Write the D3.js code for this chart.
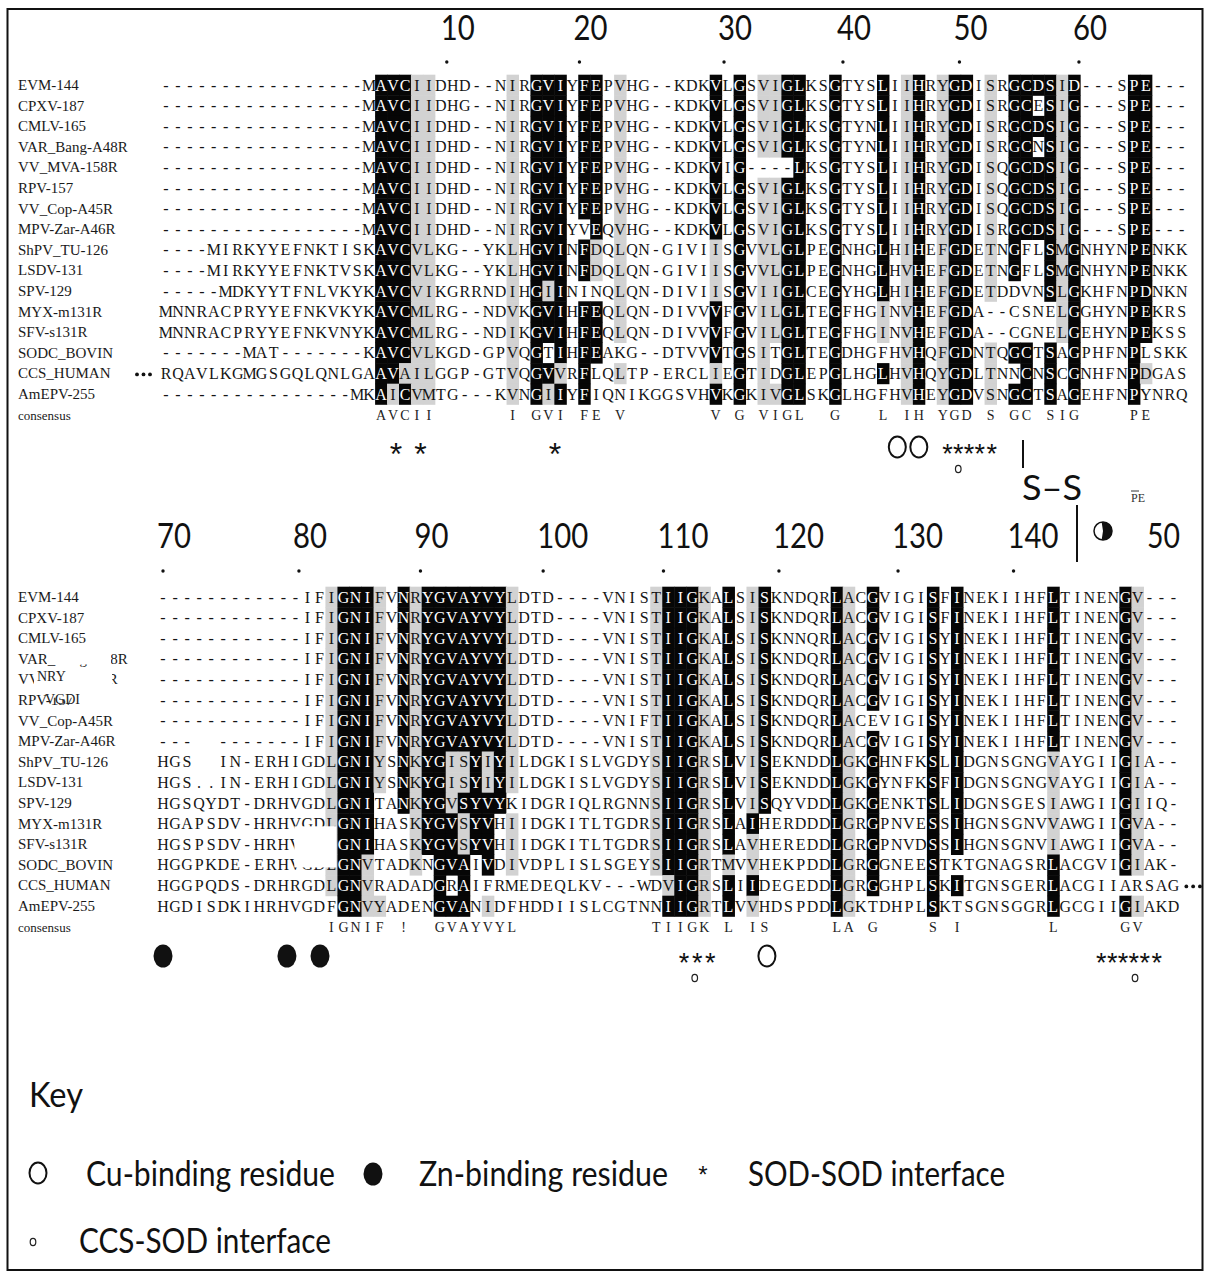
<!DOCTYPE html>
<html lang="en">
<head>
<meta charset="utf-8">
<title>SOD alignment</title>
<script src="https://cdn.jsdelivr.net/npm/d3@7"></script>
<style>
  body { margin: 0; background: #fff; }
</style>
</head>
<body>
<script>

/* sequence names (same order in both blocks) */
var names = ["EVM-144", "CPXV-187", "CMLV-165", "VAR_Bang-A48R", "VV_MVA-158R", "RPV-157",
             "VV_Cop-A45R", "MPV-Zar-A46R", "ShPV_TU-126", "LSDV-131", "SPV-129", "MYX-m131R",
             "SFV-s131R", "SODC_BOVIN", "CCS_HUMAN", "AmEPV-255"];

/* block 1 : residues */
var topSeqs = [
  "-----------------MAVCIIDHD--NIRGVIYFEPVHG--KDKVLGSVIGLKSGTYSLIIHRYGDISRGCDSID---SPE---",
  "-----------------MAVCIIDHG--NIRGVIYFEPVHG--KDKVLGSVIGLKSGTYSLIIHRYGDISRGCESIG---SPE---",
  "-----------------MAVCIIDHD--NIRGVIYFEPVHG--KDKVLGSVIGLKSGTYNLIIHRYGDISRGCDSIG---SPE---",
  "-----------------MAVCIIDHD--NIRGVIYFEPVHG--KDKVLGSVIGLKSGTYNLIIHRYGDISRGCNSIG---SPE---",
  "-----------------MAVCIIDHD--NIRGVIYFEPVHG--KDKVIG----LKSGTYSLIIHRYGDISQGCDSIG---SPE---",
  "-----------------MAVCIIDHD--NIRGVIYFEPVHG--KDKVLGSVIGLKSGTYSLIIHRYGDISQGCDSIG---SPE---",
  "-----------------MAVCIIDHD--NIRGVIYFEPVHG--KDKVLGSVIGLKSGTYSLIIHRYGDISQGCDSIG---SPE---",
  "-----------------MAVCIIDHD--NIRGVIYVEQVHG--KDKVLGSVIGLKSGTYSLIIHRYGDISRGCDSIG---SPE---",
  "----MIRKYYEFNKTISKAVCVLKG--YKLHGVINFDQLQN-GIVIISGVVLGLPEGNHGLHIHEFGDETNGFLSMGNHYNPENKK",
  "----MIRKYYEFNKTVSKAVCVLKG--YKLHGVINFDQLQN-GIVIISGVVLGLPEGNHGLHVHEFGDETNGFLSMGNHYNPENKK",
  "-----MDKYYTFNLVKYKAVCVIKGRRNDIHGIININQLQN-DIVIISGVIIGLCEGYHGLHIHEFGDETDDVNSLGKHFNPDNKN",
  "MNNRACPRYYEFNKVKYKAVCMLRG--NDVKGVIHFEQLQN-DIVVVFGVILGLTEGFHGINVHEFGDA--CSNELGGHYNPEKRS",
  "MNNRACPRYYEFNKVNYKAVCMLRG--NDIKGVIHFEQLQN-DIVVVFGVILGLTEGFHGINVHEFGDA--CGNELGEHYNPEKSS",
  "-------MAT-------KAVCVLKGD-GPVQGTIHFEAKG--DTVVVTGSITGLTEGDHGFHVHQFGDNTQGCTSAGPHFNPLSKK",
  "RQAVLKGMGSGQLQNLGAAVAILGGP-GTVQGVVRFLQLTP-ERCLIEGTIDGLEPGLHGLHVHQYGDLTNNCNSCGNHFNPDGAS",
  "----------------MKAICVMTG---KVNGIIYFIQNIKGGSVHVKGKIVGLSKGLHGFHVHEYGDVSNGCTSAGEHFNPYNRQ"
];

/* block 1 : conservation class per residue (2 identical, 1 similar, 0 none) */
var topShade = [
  "0000000000|0000000022|2110000001|0222022010|0000002020|1122002000|2012012201|0222212000|022000",
  "0000000000|0000000022|2110000001|0222022010|0000002020|1122002000|2012012201|0220212000|022000",
  "0000000000|0000000022|2110000001|0222022010|0000002020|1122002000|2012012201|0222212000|022000",
  "0000000000|0000000022|2110000001|0222022010|0000002020|1122002000|2012012201|0220212000|022000",
  "0000000000|0000000022|2110000001|0222022010|0000002020|0002002000|2012012201|0222212000|022000",
  "0000000000|0000000022|2110000001|0222022010|0000002020|1122002000|2012012201|0222212000|022000",
  "0000000000|0000000022|2110000001|0222022010|0000002020|1122002000|2012012201|0222212000|022000",
  "0000000000|0000000022|2110000001|0222002010|0000002020|1122002000|2012012201|0222212000|022000",
  "0000000000|0000000022|2110000001|0222021010|0000001020|1122002000|2012012201|0200212000|022000",
  "0000000000|0000000022|2110000001|0222021010|0000001020|1122002000|2012012201|0200212000|022000",
  "0000000000|0000000022|2110000001|0212000010|0000001020|1122002000|2012012201|0000212000|022000",
  "0000000000|0000000022|2110000001|0222022010|0000002020|1122002000|1012012200|0000012000|022000",
  "0000000000|0000000022|2110000001|0222022010|0000002020|1122002000|1012012200|0000012000|022000",
  "0000000000|0000000022|2110000001|0202022000|0000002020|1022002000|0012012201|0220202000|020000",
  "0000000000|0000000022|1110000001|0221020010|0000001020|1022002000|2012012201|0020202000|021000",
  "0000000000|0000000021|2110000001|0212020000|0000002020|1122002000|0012012201|0220202000|020000"
];

var topConsensus = [[19, "AVCII"], [30, "I"], [32, "GVI"], [36, "FE"], [39, "V"], [47, "V"], [49, "G"],
  [51, "VIGL"], [57, "G"], [61, "L"], [63, "IH"], [66, "YGD"], [70, "S"], [72, "GC"], [75, "SIG"], [82, "PE"]];

/* block 2 : residues */
var bottomSeqs = [
  "------------IFIGNIFVNRYGVAYVYLDTD----VNISTIIGKALSISKNDQRLACGVIGISFINEKIIHFLTINENGV---",
  "------------IFIGNIFVNRYGVAYVYLDTD----VNISTIIGKALSISKNDQRLACGVIGISFINEKIIHFLTINENGV---",
  "------------IFIGNIFVNRYGVAYVYLDTD----VNISTIIGKALSISKNNQRLACGVIGISYINEKIIHFLTINENGV---",
  "------------IFIGNIFVNRYGVAYVYLDTD----VNISTIIGKALSISKNDQRLACGVIGISYINEKIIHFLTINENGV---",
  "------------IFIGNIFVNRYGVAYVYLDTD----VNISTIIGKALSISKNDQRLACGVIGISYINEKIIHFLTINENGV---",
  "------------IFIGNIFVNRYGVAYVYLDTD----VNISTIIGKALSISKNDQRLACGVIGISYINEKIIHFLTINENGV---",
  "------------IFIGNIFVNRYGVAYVYLDTD----VNIFTIIGKALSISKNDQRLACEVIGISYINEKIIHFLTINENGV---",
  "---  -------IFIGNIFVNRYGVAYVYLDTD----VNISTIIGKALSISKNDQRLACGVIGISYINEKIIHFLTINENGV---",
  "HGS  IN-ERHIGDLGNIYSNKYGISYIYILDGKISLVGDYSIIGRSLVISEKNDDLGKGHNFKSLIDGNSGNGVAYGIIGIA--",
  "HGS..IN-ERHIGDLGNIYSNKYGISYIYILDGKISLVGDYSIIGRSLVISEKNDDLGKGYNFKSFIDGNSGNGVAYGIIGIA--",
  "HGSQYDT-DRHVGDLGNITANKYGVSYVYKIDGRIQLRGNNSIIGRSLVISQYVDDLGKGENKTSLIDGNSGESIAWGIIGIIQ-",
  "HGAPSDV-HRHVGDLGNIHASKYGVSYVHIIDGKITLTGDRSIIGRSLAIHERDDDLGRGPNVESSIHGNSGNVVAWGIIGVA--",
  "HGSPSDV-HRHVGDLGNIHASKYGVSYVHIIDGKITLTGDRSIIGRSLAVHEREDDLGRGPNVDSSIHGNSGNVIAWGIIGVA--",
  "HGGPKDE-ERHVGDLGNVTADKNGVAIVDIVDPLISLSGEYSIIGRTMVVHEKPDDLGRGGNEESTKTGNAGSRLACGVIGIAK-",
  "HGGPQDS-DRHRGDLGNVRADADGRAIFRMEDEQLKV---WDVIGRSLIIDEGEDDLGRGGHPLSKITGNSGERLACGIIARSAG",
  "HGDISDKIHRHVGDFGNVYADENGVANIDFHDDIISLCGTNNIIGRTLVVHDSPDDLGKTDHPLSKTSGNSGGRLGCGIIGIAKD"
];

var bottomShade = [
  "0000000000|0000122210|2122222221|0000000000|0122210201|2000002102|0000202000|0000200000|21000",
  "0000000000|0000122210|2122222221|0000000000|0122210201|2000002102|0000202000|0000200000|21000",
  "0000000000|0000122210|2122222221|0000000000|0122210201|2000002102|0000202000|0000200000|21000",
  "0000000000|0000122210|2122222221|0000000000|0122210201|2000002102|0000202000|0000200000|21000",
  "0000000000|0000122210|2122222221|0000000000|0122210201|2000002102|0000202000|0000200000|21000",
  "0000000000|0000122210|2122222221|0000000000|0122210201|2000002102|0000202000|0000200000|21000",
  "0000000000|0000122210|2122222221|0000000000|0122210201|2000002100|0000202000|0000200000|21000",
  "0000000000|0000122210|2122222221|0000000000|0122210201|2000002102|0000202000|0000200000|21000",
  "0000000000|0000122210|2122112121|0000000000|0122210201|2000002102|0000202000|0000100000|21000",
  "0000000000|0000122210|2122112121|0000000000|0122210201|2000002102|0000202000|0000100000|21000",
  "0000000000|0000122200|2122122220|0000000000|0122210201|2000002102|0000202000|0000100000|21000",
  "0000000000|0000122200|0122212201|0000000000|0122210202|0000002102|0000202000|0000100000|21000",
  "0000000000|0000122200|0122212201|0000000000|0122210201|0000002102|0000202000|0000100000|21000",
  "0000000000|0000122100|0102220201|0000000000|0122210101|0000002102|0000200000|0000200000|21000",
  "0000000000|0000122100|0002020000|0000000000|0012210202|0000002102|0000202000|0000200000|00000",
  "0000000000|0000022110|0002220100|0000000000|0022210201|0000002100|0000200000|0000200000|21000"
];

var bottomConsensus = [[15, "IGNIF"], [21, "!"], [24, "GVAYVYL"], [42, "TIIGK"], [48, "L"], [50, "IS"],
  [57, "LA"], [60, "G"], [65, "S"], [67, "I"], [75, "L"], [81, "GV"]];

/* position rulers (SOD numbering), column */
var topTickLabels = ["10", "20", "30", "40", "50", "60"];
var topTickCols = [24.5, 35.6, 47.7, 57.65, 67.4, 77.4];
var bottomTickLabels = ["70", "80", "90", "100", "110", "120", "130", "140"];
var bottomTickCols = [1.0, 12.3, 22.4, 32.6, 42.6, 52.2, 62.1, 71.7];

/* feature marks under each block: kind, column */
var topMarks = [["sod", 20.25], ["sod", 22.3], ["sod", 33.55], ["cu", 62.2], ["cu", 64.0],
  ["sodSmall", 66.4], ["sodSmall", 67.3], ["sodSmall", 68.2], ["sodSmall", 69.1], ["sodSmall", 70.1],
  ["ccs", 67.3]];
var bottomMarks = [["zn", 1.0], ["zn", 11.3], ["zn", 14.05],
  ["sodSmall", 44.3], ["sodSmall", 45.4], ["sodSmall", 46.5], ["ccs", 45.2], ["cu", 51.2],
  ["sodSmall", 79.0], ["sodSmall", 79.9], ["sodSmall", 80.8], ["sodSmall", 81.7], ["sodSmall", 82.6], ["sodSmall", 83.6],
  ["ccs", 81.8]];

var keyKinds = ["cu", "zn", "sod", "ccs"];
var keyLabels = ["Cu-binding residue", "Zn-binding residue", "SOD-SOD interface", "CCS-SOD interface"];

/* ------------------------------------------------------------------ */
var w = 1210, h = 1278;
var serif = "'Liberation Serif', 'Times New Roman', serif";
var sans = "Lato, 'Open Sans', 'DejaVu Sans', sans-serif";

var svg = d3.select("body").append("svg")
  .attr("width", w)
  .attr("height", h);

svg.append("rect").attr("width", w).attr("height", h).attr("fill", "#fff");

var xTop = d3.scaleLinear().domain([0, 86]).range([160, 160 + 86 * 11.95]);
var xBot = d3.scaleLinear().domain([0, 85]).range([157, 157 + 85 * 12.03]);
var yTop = d3.scaleBand().domain(d3.range(17)).range([74.7, 74.7 + 17 * 20.6]);
var yBot = d3.scaleBand().domain(d3.range(17)).range([586.7, 586.7 + 17 * 20.6]);
var shadeColor = d3.scaleOrdinal().domain(["1", "2"]).range(["#d2d2d2", "#060606"]);

// sans text squeezed to the width it has in the figure
function sansText(g, txt, x, y, size, width) {
  var t = g.append("text").text(txt).attr("x", x).attr("y", y)
    .attr("font-family", sans)
    .attr("font-size", size + "px").attr("fill", "#111");
  if (width) t.attr("textLength", width).attr("lengthAdjust", "spacingAndGlyphs");
  return t;
}

function drawBlock(seqs, shades, cons, x, y) {
  var g = svg.append("g");
  var cw = x(1) - x(0);
  seqs.forEach(function(seq, r) {
    var sh = shades[r].replace(/\|/g, "");
    var cells = seq.split("").map(function(ch, j) {
      return {ch: ch, j: j, s: sh.charAt(j) || "0"};
    });
    var row = g.append("g");
    row.selectAll("rect")
      .data(cells.filter(function(d) { return d.s !== "0"; }))
      .enter()
      .append("rect")
      .attr("x", function(d) { return x(d.j); })
      .attr("y", y(r))
      .attr("width", cw + 0.5)
      .attr("height", y.bandwidth() + 0.5)
      .attr("fill", function(d) { return shadeColor(d.s); });
    row.selectAll("text")
      .data(cells.filter(function(d) { return d.ch !== " "; }))
      .enter()
      .append("text")
      .text(function(d) { return d.ch; })
      .attr("x", function(d) { return x(d.j + 0.5); })
      .attr("y", y(r) + y.bandwidth() / 2 + 5.5)
      .attr("text-anchor", "middle")
      .attr("font-family", serif)
      .attr("font-size", "16px")
      .attr("fill", function(d) { return d.s === "2" ? "#fff" : "#151515"; });
  });

  // names
  g.selectAll("text.name")
    .data(names.concat(["consensus"]))
    .enter()
    .append("text")
    .attr("class", "name")
    .text(function(d) { return d; })
    .attr("x", 18)
    .attr("y", function(d, i) { return y(i) + y.bandwidth() / 2 + 5; })
    .attr("font-family", serif)
    .attr("font-size", function(d, i) { return i === 16 ? "13px" : "15px"; })
    .attr("fill", "#1a1a1a");

  // consensus line
  var consCells = [];
  cons.forEach(function(c) {
    c[1].split("").forEach(function(ch, k) { consCells.push({ch: ch, j: c[0] - 1 + k}); });
  });
  g.selectAll("text.cons")
    .data(consCells)
    .enter()
    .append("text")
    .attr("class", "cons")
    .text(function(d) { return d.ch; })
    .attr("x", function(d) { return x(d.j + 0.5); })
    .attr("y", y(16) + y.bandwidth() / 2 + 5)
    .attr("text-anchor", "middle")
    .attr("font-family", serif)
    .attr("font-size", "14px")
    .attr("fill", "#222");
  return g;
}

function drawRuler(labels, cols, x, yDot, yText) {
  var g = svg.append("g");
  g.selectAll("circle")
    .data(cols)
    .enter()
    .append("circle")
    .attr("cx", function(d) { return x(d - 0.5); })
    .attr("cy", yDot)
    .attr("r", 1.7)
    .attr("fill", "#111");
  labels.forEach(function(d, i) {
    sansText(g, d, x(cols[i] - 0.5) - 6, yText, 35, 17 * d.length);
  });
}

function drawMark(g, kind, cx, cy) {
  if (kind === "cu") {
    g.append("ellipse").attr("cx", cx).attr("cy", cy).attr("rx", 8.5).attr("ry", 10.5)
      .attr("fill", "none").attr("stroke", "#111").attr("stroke-width", 2);
  } else if (kind === "zn") {
    g.append("ellipse").attr("cx", cx).attr("cy", cy).attr("rx", 9.5).attr("ry", 11.5)
      .attr("fill", "#111");
  } else if (kind === "ccs") {
    g.append("ellipse").attr("cx", cx).attr("cy", cy).attr("rx", 2.8).attr("ry", 3.6)
      .attr("fill", "none").attr("stroke", "#222").attr("stroke-width", 1.2);
  } else {
    var fs = kind === "sod" ? 32 : (kind === "sodKey" ? 24 : 27);
    g.append("text").text("*").attr("x", cx).attr("y", cy + fs * 0.55)
      .attr("text-anchor", "middle").attr("font-family", "'Liberation Sans', sans-serif")
      .attr("font-size", fs + "px").attr("fill", "#111");
  }
}

function drawMarks(marks, x, yBase) {
  var g = svg.append("g");
  marks.forEach(function(m) {
    var yy = m[0] === "ccs" ? yBase + 22 : (m[0] === "sodSmall" ? yBase + 1 : yBase);
    drawMark(g, m[0], x(m[1] - 0.5), yy);
  });
}

drawBlock(topSeqs, topShade, topConsensus, xTop, yTop);
drawBlock(bottomSeqs, bottomShade, bottomConsensus, xBot, yBot);

/* CCS_HUMAN continues beyond both ends */
var dotsG = svg.append("g");
[137, 143.5, 150].forEach(function(dx) {
  dotsG.append("circle").attr("cx", dx).attr("cy", yTop(14) + yTop.bandwidth() / 2 + 1).attr("r", 1.9).attr("fill", "#111");
});
[1, 2, 3].forEach(function(k) {
  dotsG.append("circle").attr("cx", xBot(85) + k * 6.8).attr("cy", yBot(14) + yBot.bandwidth() / 2 + 1).attr("r", 1.9).attr("fill", "#111");
});

/* pasted-over patches of the original figure */
var patch = svg.append("g");
patch.append("rect").attr("x", 47).attr("y", yBot(3) + 2).attr("width", 64).attr("height", 14).attr("fill", "#fff");
patch.append("rect").attr("x", 34).attr("y", yBot(4) + 1).attr("width", 78).attr("height", 20).attr("fill", "#fff");
patch.append("rect").attr("x", 47).attr("y", yBot(5)).attr("width", 28).attr("height", 8).attr("fill", "#fff");
patch.append("text").text("NRY").attr("x", 37).attr("y", yBot(4) + 12).attr("font-family", serif)
  .attr("font-size", "14px").attr("fill", "#222");
patch.append("text").text("VGDI").attr("x", 45).attr("y", yBot(5) + 14).attr("font-family", serif)
  .attr("font-size", "14px").attr("fill", "#222");
patch.append("rect").attr("x", xBot(11) + 5).attr("y", yBot(11) + 13).attr("width", xBot(15) - xBot(11) - 6)
  .attr("height", yBot(13) + 13 - (yBot(11) + 13)).attr("fill", "#fff");

/* rulers */
drawRuler(topTickLabels, topTickCols, xTop, 62, 40);
drawRuler(bottomTickLabels, bottomTickCols, xBot, 571, 548);

/* feature marks */
drawMarks(topMarks, xTop, 447);
drawMarks(bottomMarks, xBot, 956);

/* disulfide and end of the alignment */
var ann = svg.append("g");
ann.append("line").attr("x1", 1023).attr("x2", 1023).attr("y1", 440).attr("y2", 468)
  .attr("stroke", "#111").attr("stroke-width", 2);
sansText(ann, "S\u2013S", 1022, 500, 35, 60);
ann.append("text").text("PE").attr("x", 1131).attr("y", 502)
  .attr("font-family", serif).attr("font-size", "12px").attr("fill", "#333");
ann.append("line").attr("x1", 1131).attr("x2", 1139).attr("y1", 491).attr("y2", 491)
  .attr("stroke", "#333").attr("stroke-width", 1);
ann.append("line").attr("x1", 1077).attr("x2", 1077).attr("y1", 505).attr("y2", 562)
  .attr("stroke", "#111").attr("stroke-width", 2);
ann.append("circle").attr("cx", 1103).attr("cy", 531).attr("r", 9)
  .attr("fill", "#fff").attr("stroke", "#111").attr("stroke-width", 1.5);
ann.append("path").attr("d", d3.arc()({innerRadius: 0, outerRadius: 9, startAngle: -0.15, endAngle: Math.PI + 0.15}))
  .attr("transform", "translate(1103,531)").attr("fill", "#111");
sansText(ann, "50", 1147, 548, 35, 33);

/* key */
var key = svg.append("g");
sansText(key, "Key", 29, 1107, 35, 54);
var keySymX = [38, 373, 703, 33];
var keySymY = [1173, 1174, 1170, 1242];
var keyTextX = [86, 419, 748, 79];
var keyTextY = [1186, 1186, 1186, 1253];
var keyTextW = [249, 249, 257, 252];
keyKinds.forEach(function(k, i) {
  drawMark(key, k === "sod" ? "sodKey" : k, keySymX[i], keySymY[i]);
  sansText(key, keyLabels[i], keyTextX[i], keyTextY[i], 35, keyTextW[i]);
});

/* frame */
svg.append("rect").attr("x", 7.5).attr("y", 9).attr("width", 1195).attr("height", 1261)
  .attr("fill", "none").attr("stroke", "#111").attr("stroke-width", 2);

</script>
</body>
</html>
